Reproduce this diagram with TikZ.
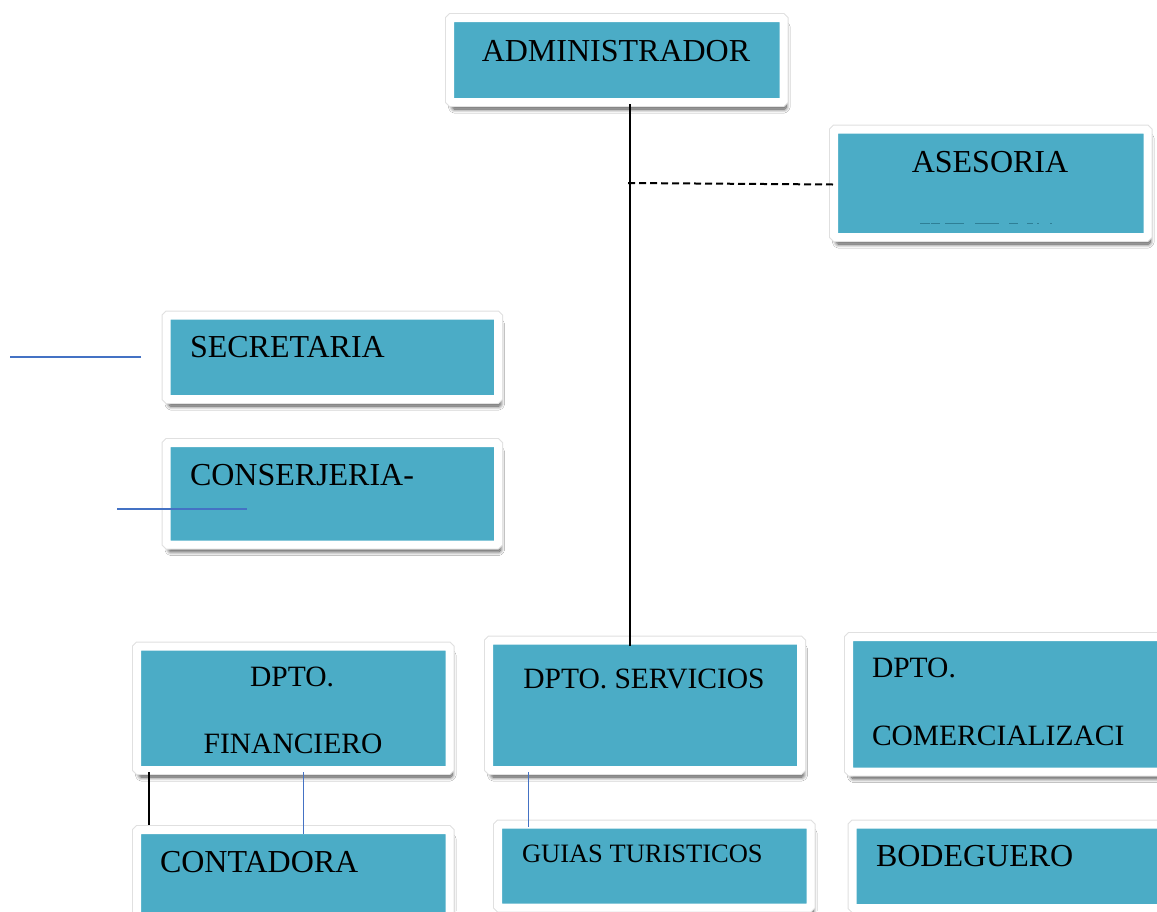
\documentclass[tikz,border=0pt]{standalone}
\usepackage{fontspec}
\setmainfont{Liberation Serif}
\usetikzlibrary{shadows.blur}
\definecolor{boxteal}{HTML}{4BACC6}
\definecolor{lineblue}{HTML}{4472C4}
\definecolor{fragteal}{HTML}{2E7F96}
\tikzset{
  orgbox/.style={rectangle, draw=white, line width=8pt, fill=boxteal, rounded corners=1.5pt,
    inner sep=0pt, outer sep=0pt,
    blur shadow={shadow xshift=2.5pt, shadow yshift=-7pt, shadow blur steps=8, shadow blur radius=4pt, shadow opacity=75},
    preaction={draw=black!12, line width=10pt}},
  lbl/.style={inner sep=0pt, outer sep=0pt, text=black},
  big/.style={font=\fontsize{32}{38}\selectfont},
  mid/.style={font=\fontsize{29.5}{35}\selectfont},
  small/.style={font=\fontsize{26.5}{32}\selectfont},
  blackline/.style={draw=black, line width=1.8pt},
  blueline/.style={draw=lineblue, line width=1.8pt},
  dashline/.style={draw=black, line width=2pt, dash pattern=on 7pt off 4pt}
}
\begin{document}
\begin{tikzpicture}[x=1pt, y=-1pt]
\clip (0,0) rectangle (1157,911);
\useasboundingbox (0,0) rectangle (1157,911);
\fill[white] (0,0) rectangle (1157,911);

% boxes
\node[orgbox, minimum width=333.5pt, minimum height=84pt] (admin) at (616.75,60) {};
\node[orgbox, minimum width=313.5pt, minimum height=107.5pt] (ases) at (990.75,183.25) {};
\node[orgbox, minimum width=331.5pt, minimum height=83.5pt] (secr) at (332.25,357.25) {};
\node[orgbox, minimum width=331.5pt, minimum height=101.5pt] (cons) at (332.25,493.75) {};
\node[orgbox, minimum width=312.5pt, minimum height=123.5pt] (fin) at (293.25,708.25) {};
\node[orgbox, minimum width=312pt, minimum height=129.5pt] (serv) at (645,705.25) {};
\node[orgbox, minimum width=360pt, minimum height=134.5pt] (com) at (1029,704.25) {};
\node[orgbox, minimum width=312.5pt, minimum height=130pt] (cont) at (293.25,895) {};
\node[orgbox, minimum width=312.5pt, minimum height=83pt] (guia) at (654.25,866) {};
\node[orgbox, minimum width=360pt, minimum height=83.5pt] (bod) at (1032.5,866.25) {};

% texts
\node[lbl, big, anchor=base] (tadmin) at (616,61) {ADMINISTRADOR};
\node[lbl, big, anchor=base] (tases) at (990,172) {ASESORIA};
\node[lbl, big, anchor=base west] (tsecr) at (190,357) {SECRETARIA};
\node[lbl, big, anchor=base west] (tcons) at (190,485) {CONSERJERIA-};
\node[lbl, mid, anchor=base] (tfin1) at (292,686) {DPTO.};
\node[lbl, mid, anchor=base] (tfin2) at (293,753) {FINANCIERO};
\node[lbl, mid, anchor=base] (tserv) at (644,688) {DPTO. SERVICIOS};
\node[lbl, mid, anchor=base west] (tcom1) at (872,677) {DPTO.};
\node[lbl, mid, anchor=base west] (tcom2) at (872,745) {COMERCIALIZACI};
\node[lbl, big, anchor=base west] (tcont) at (160,872) {CONTADORA};
\node[lbl, small, anchor=base west] (tguia) at (522,862) {GUIAS TURISTICOS};
\node[lbl, big, anchor=base west] (tbod) at (876,866) {BODEGUERO};

% clipped fragments of a hidden second line in ASESORIA
\foreach \a/\b in {920/930,931/940,945/964,975/999,1009/1018,1027/1033,1037/1039,1050/1052}
  \draw[fragteal, line width=1pt] (\a,223) -- (\b,223);

% connectors
\coordinate (vx) at (630,0);
\coordinate (d1) at (628,183);
\coordinate (vf) at (149,0);
\coordinate (vb) at (303.5,0);
\coordinate (vs) at (528.5,0);

\draw[blackline] ([yshift=-2pt]admin.south -| vx) -- ([yshift=-5.5pt]serv.north -| vx);
\draw[dashline] (d1) -- ([xshift=-1pt,yshift=-1.25pt]ases.west);
\draw[blueline] ([xshift=-25.5pt]secr.west) -- ++(-131,0);
\draw[blueline] ([xshift=-49.5pt,yshift=-15.25pt]cons.west) -- ++(130,0);
\draw[blackline] ([yshift=-2pt]fin.south -| vf) -- ([yshift=5pt]cont.north -| vf);
\draw[blueline] ([yshift=-2pt]fin.south -| vb) -- ([yshift=-4pt]cont.north -| vb);
\draw[blueline] ([yshift=-2pt]serv.south -| vs) -- ([yshift=-2.5pt]guia.north -| vs);
\end{tikzpicture}
\end{document}
